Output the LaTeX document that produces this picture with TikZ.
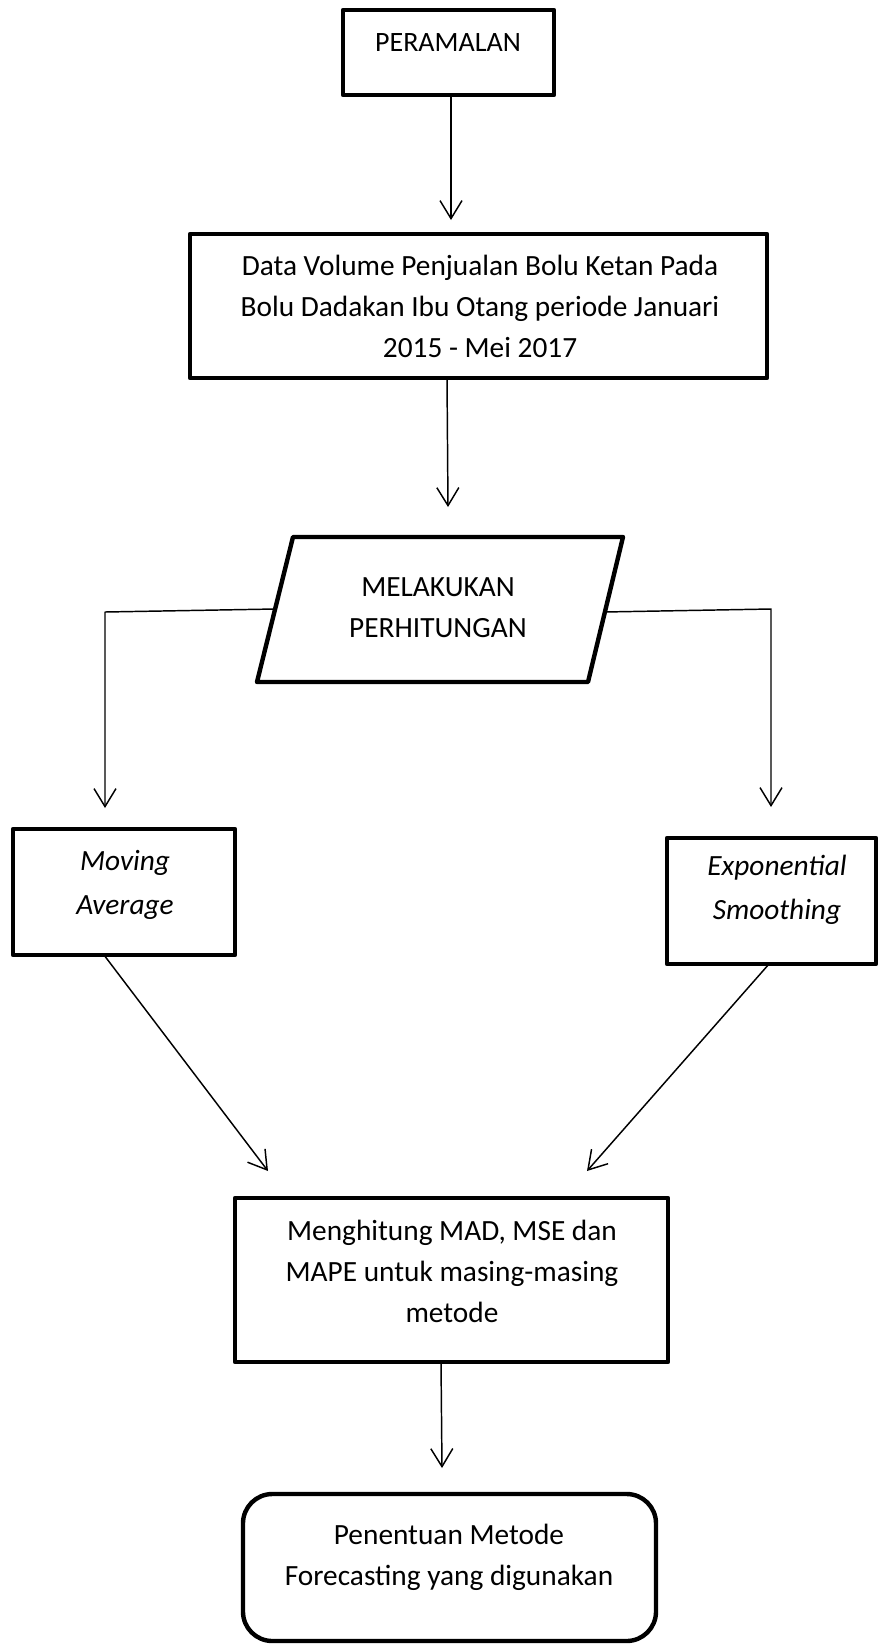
\documentclass[tikz,border=0pt]{standalone}
\usepackage{fontspec}
\setmainfont{Carlito}
\usetikzlibrary{arrows.meta}
\begin{document}
\begin{tikzpicture}[x=0.75pt,y=-0.75pt,line join=round,
  box/.style={draw, line width=3.3pt, inner sep=0pt},
  txt/.style={inner sep=0pt, align=center, font=\fontsize{22}{31}\selectfont},
  itxt/.style={inner sep=0pt, align=center, font=\fontsize{22}{33}\selectfont\itshape},
  arr/.style={-{Straight Barb[length=13.5pt,width=16.5pt,line width=1.1pt]}, line width=1.1pt}]
\useasboundingbox (0,0) rectangle (879,1646);
% PERAMALAN
\node[box, minimum width=211*0.75pt, minimum height=85*0.75pt] (p) at (448.5,52.5) {};
\node[txt, font=\fontsize{21}{31}\selectfont] (pt) at (448,43) {PERAMALAN};
% Data box
\node[box, minimum width=577*0.75pt, minimum height=144*0.75pt] (d) at (478.5,306) {};
\node[txt] (dt) at (480,306.5) {Data Volume Penjualan Bolu Ketan Pada\\Bolu Dadakan Ibu Otang periode Januari\\2015 - Mei 2017};
% Parallelogram
\coordinate (m1) at (293,537);
\coordinate (m2) at (623,537);
\coordinate (m3) at (588,682);
\coordinate (m4) at (257,682);
\draw[line width=3.3pt] (m1) -- (m2) -- (m3) -- (m4) -- cycle;
\node[txt] (m) at (438,607.5) {MELAKUKAN\\PERHITUNGAN};
% Moving Average
\node[box, minimum width=222*0.75pt, minimum height=126*0.75pt] (ma) at (124,892) {};
\node[itxt] (mat) at (125,885) {Moving\\Average};
% Exponential Smoothing
\node[box, minimum width=209*0.75pt, minimum height=126*0.75pt] (es) at (771.5,901) {};
\node[itxt] (est) at (777,890) {Exponential\\Smoothing};
% Menghitung
\node[box, minimum width=433*0.75pt, minimum height=164*0.75pt] (h) at (451.5,1280) {};
\node[txt] (ht) at (452,1271.5) {Menghitung MAD, MSE dan\\MAPE untuk masing-masing\\metode};
% Penentuan
\node[box, rounded corners=22pt, minimum width=413*0.75pt, minimum height=147*0.75pt] (f) at (449.5,1567.5) {};
\node[txt] (ft) at (449,1557.5) {Penentuan Metode\\Forecasting yang digunakan};
% connector coordinates
\coordinate (a1s) at (451,95);
\coordinate (a1e) at (451,220);
\coordinate (a2s) at (447,378);
\coordinate (a2e) at (448,507);
\coordinate (ml) at (275,609);
\coordinate (mlc) at (105,612);
\coordinate (tl) at (105,808);
\coordinate (mr) at (604,612);
\coordinate (mrc) at (771,609);
\coordinate (tr) at (771,807);
\coordinate (mab) at (104,955);
\coordinate (hl) at (268,1171);
\coordinate (esb) at (769,964);
\coordinate (hr) at (587,1171);
\coordinate (a3s) at (441,1362);
\coordinate (a3e) at (442,1468);
% connectors
\draw[arr] (a1s) -- (a1e);
\draw[arr] (a2s) -- (a2e);
\draw[arr] (ml) -- (mlc) -- (tl);
\draw[arr] (mr) -- (mrc) -- (tr);
\draw[arr] (mab) -- (hl);
\draw[arr] (esb) -- (hr);
\draw[arr] (a3s) -- (a3e);
\end{tikzpicture}
\end{document}
